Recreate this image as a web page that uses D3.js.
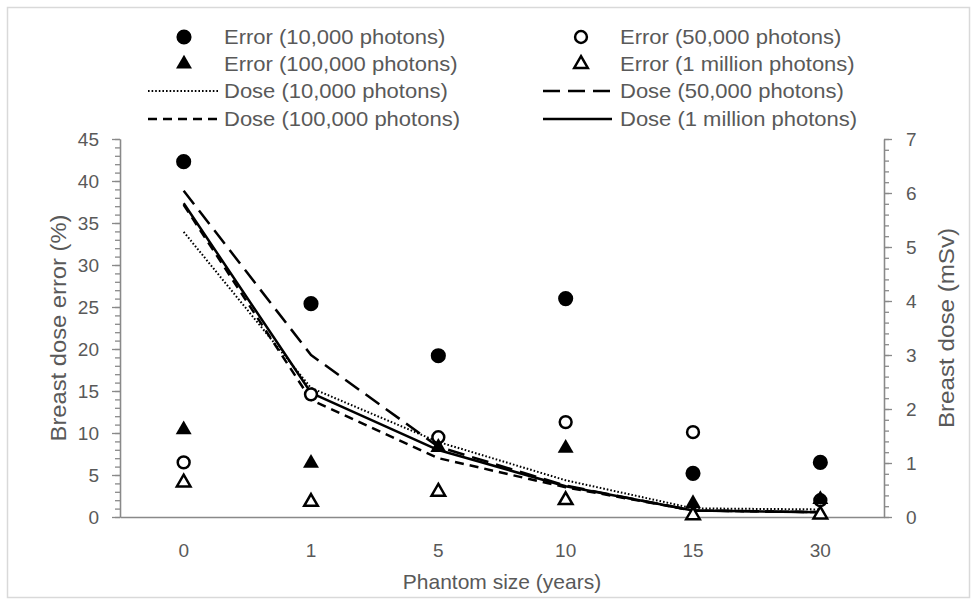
<!DOCTYPE html>
<html><head><meta charset="utf-8">
<script src="https://cdn.jsdelivr.net/npm/d3@7"></script>
<style>body{margin:0;background:#fff}text{font-family:"Liberation Sans",Arial,sans-serif;fill:#595959}</style>
</head><body>
<svg id="c" width="974" height="602"></svg>
<script>
const categories = ["0","1","5","10","15","30"];
const err10k  = [42.3, 25.4, 19.2, 26.0, 5.2, 6.5];
const err50k  = [6.5, 14.6, 9.5, 11.3, 10.1, 2.0];
const err100k = [10.4, 6.4, 8.3, 8.2, 1.6, 2.1];
const err1m   = [4.1, 1.8, 3.0, 2.0, 0.2, 0.3];
const dose10k  = [5.28, 2.39, 1.39, 0.68, 0.16, 0.14];
const dose50k  = [6.04, 3.0, 1.3, 0.58, 0.12, 0.09];
const dose100k = [5.78, 2.17, 1.09, 0.55, 0.12, 0.09];
const dose1m   = [5.81, 2.3, 1.24, 0.57, 0.12, 0.09];
const leftTicks = [0,5,10,15,20,25,30,35,40,45];
const rightTicks = [0,1,2,3,4,5,6,7];

const svg = d3.select("#c");
const L=120, R=884, T=139, B=517;
const axisColor="#898989";
svg.append("rect").attr("x",7.5).attr("y",7.5).attr("width",962).attr("height",590)
  .attr("fill","#fff").attr("stroke","#d9d9d9").attr("stroke-width",1.5);

const x = d3.scaleBand().domain(categories).range([L,R]);
const yL = d3.scaleLinear().domain([0,45]).range([B,T]);
const yR = d3.scaleLinear().domain([0,7]).range([B,T]);
const cx = c => x(c)+x.bandwidth()/2;

function styleAxis(g){ g.select(".domain").attr("stroke",axisColor).attr("stroke-width",1.3);
  g.selectAll("line").attr("stroke",axisColor).attr("stroke-width",1.3);
  g.selectAll("text").attr("fill","#595959").style("font-size","19px").style("font-family","Liberation Sans, Arial, sans-serif"); }

// minor ticks
svg.append("g").attr("transform",`translate(${L},0)`)
  .call(d3.axisLeft(yL).tickValues(d3.range(0,46,1)).tickSize(5).tickFormat("").tickSizeOuter(0))
  .call(styleAxis);
svg.append("g").attr("transform",`translate(${R},0)`)
  .call(d3.axisRight(yR).tickValues(d3.range(0,36,1).map(v=>v*0.2)).tickSize(5).tickFormat("").tickSizeOuter(0))
  .call(styleAxis);
// major ticks
svg.append("g").attr("transform",`translate(${L},0)`)
  .call(d3.axisLeft(yL).tickValues(leftTicks).tickSize(8).tickPadding(13).tickFormat(d3.format("d")).tickSizeOuter(0))
  .call(styleAxis);
svg.append("g").attr("transform",`translate(${R},0)`)
  .call(d3.axisRight(yR).tickValues(rightTicks).tickSize(8).tickPadding(14).tickFormat(d3.format("d")).tickSizeOuter(0))
  .call(styleAxis);
svg.append("g").attr("transform",`translate(0,${B})`)
  .call(d3.axisBottom(x).tickSize(0).tickPadding(27))
  .call(styleAxis);

// titles
svg.append("text").attr("transform",`translate(58,${(T+B)/2}) rotate(-90) scale(1.08,1)`).attr("text-anchor","middle")
  .attr("dominant-baseline","central").style("font-size","22px").text("Breast dose error (%)");
svg.append("text").attr("transform",`translate(946,${(T+B)/2}) rotate(-90) scale(1.1,1)`).attr("text-anchor","middle")
  .attr("dominant-baseline","central").style("font-size","22px").text("Breast dose (mSv)");
svg.append("text").attr("x",(L+R)/2).attr("y",581).attr("text-anchor","middle")
  .attr("dominant-baseline","central").style("font-size","21px").text("Phantom size (years)");

// lines
const doseSeries = [
  {name:"Dose (10,000 photons)", vals:dose10k, dash:"1.6 2", w:2},
  {name:"Dose (50,000 photons)", vals:dose50k, dash:"17 8", w:2.5},
  {name:"Dose (100,000 photons)", vals:dose100k, dash:"9 6", w:2.5},
  {name:"Dose (1 million photons)", vals:dose1m, dash:null, w:2.5}
];
const line = d3.line().x((d,i)=>cx(categories[i])).y(d=>yR(d));
doseSeries.forEach(s=>{
  svg.append("path").datum(s.vals).attr("d",line).attr("fill","none").attr("stroke","#000")
    .attr("stroke-width",s.w).attr("stroke-dasharray",s.dash).attr("stroke-linejoin","round");
});

// markers
const circ = d3.symbol().type(d3.symbolCircle).size(180);
const circO = d3.symbol().type(d3.symbolCircle).size(110);
const tri = d3.symbol().type(d3.symbolTriangle).size(110);
const triO = d3.symbol().type(d3.symbolTriangle).size(80);
const errSeries = [
  {name:"Error (10,000 photons)", vals:err10k, sym:circ, fill:"#000", stroke:"none"},
  {name:"Error (50,000 photons)", vals:err50k, sym:circO, fill:"#fff", stroke:"#000"},
  {name:"Error (100,000 photons)", vals:err100k, sym:tri, fill:"#000", stroke:"none"},
  {name:"Error (1 million photons)", vals:err1m, sym:triO, fill:"#fff", stroke:"#000"}
];
errSeries.forEach(s=>{
  svg.append("g").selectAll("path").data(s.vals).join("path")
    .attr("d",s.sym).attr("transform",(d,i)=>`translate(${cx(categories[i])},${yL(d)})`)
    .attr("fill",s.fill).attr("stroke",s.stroke).attr("stroke-width",2.5);
});

// legend
const rowsY=[37,64,91,119];
const colMark=[184,581], colLineA=[148,543], colLineB=[219,612], colText=[224,620];
const legendItems = [
  {t:"m",s:errSeries[0]},{t:"m",s:errSeries[1]},
  {t:"m",s:errSeries[2]},{t:"m",s:errSeries[3]},
  {t:"l",s:doseSeries[0]},{t:"l",s:doseSeries[1]},
  {t:"l",s:doseSeries[2]},{t:"l",s:doseSeries[3]}
];
legendItems.forEach((it,k)=>{
  const col=k%2, row=Math.floor(k/2), y=rowsY[row];
  if(it.t==="m"){
    svg.append("path").attr("d",it.s.sym).attr("transform",`translate(${colMark[col]},${y})`)
      .attr("fill",it.s.fill).attr("stroke",it.s.stroke).attr("stroke-width",2.5);
  } else {
    svg.append("line").attr("x1",colLineA[col]).attr("x2",colLineB[col]).attr("y1",y).attr("y2",y)
      .attr("stroke","#000").attr("stroke-width",it.s.w).attr("stroke-dasharray",it.s.dash);
  }
  svg.append("text").attr("transform",`translate(${colText[col]},${y}) scale(1.1,1)`).attr("dominant-baseline","central")
    .style("font-size","20px").text(it.s.name);
});
</script>
</body></html>
